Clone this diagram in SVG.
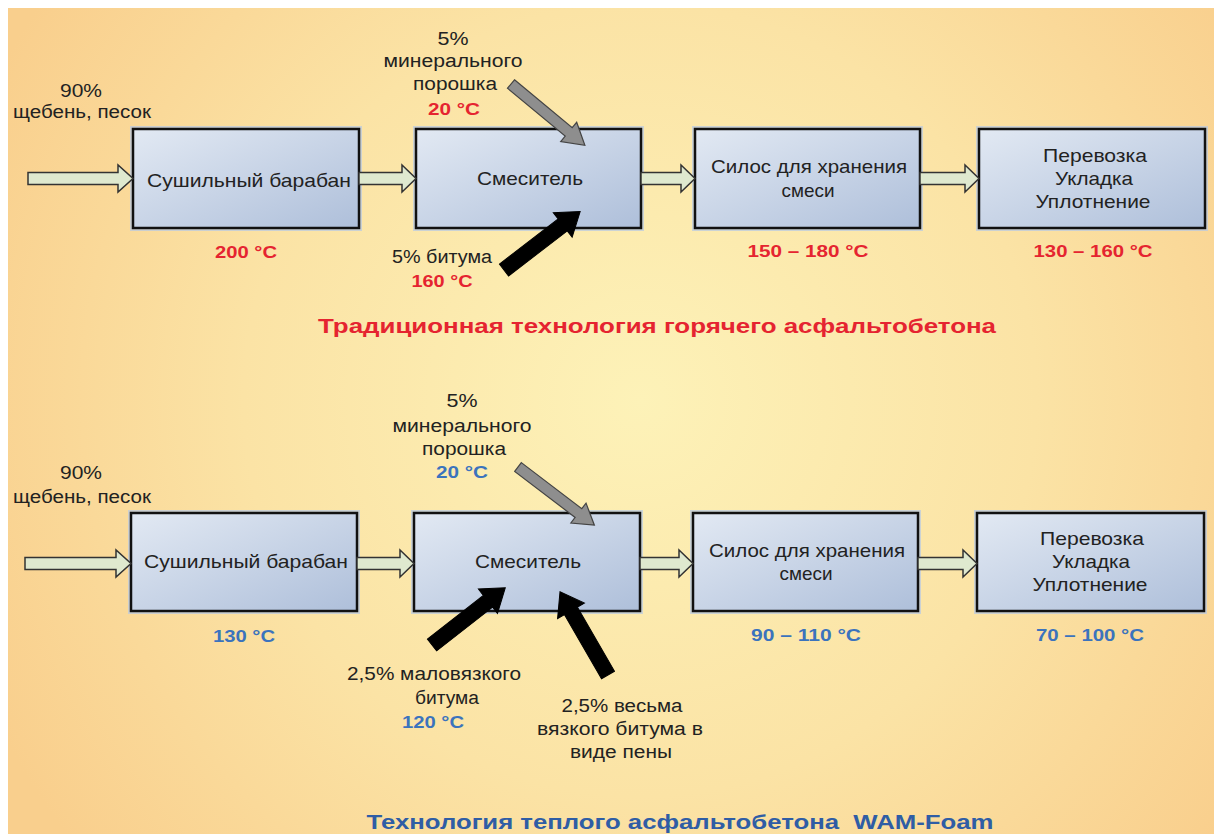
<svg xmlns="http://www.w3.org/2000/svg" width="1214" height="834" viewBox="0 0 1214 834">
<defs>
<radialGradient id="bg" cx="640" cy="400" r="720" gradientUnits="userSpaceOnUse">
<stop offset="0" stop-color="#fdf2b8"/>
<stop offset="0.55" stop-color="#fbe3a5"/>
<stop offset="1" stop-color="#f9cf8d"/>
</radialGradient>
<linearGradient id="box" x1="0" y1="0" x2="1" y2="1">
<stop offset="0" stop-color="#e2e9f3"/>
<stop offset="1" stop-color="#aebfda"/>
</linearGradient>
<style>
.box{fill:url(#box);stroke:#111;stroke-width:2.5}
.glow{fill:none;stroke:#b7c9e6;stroke-width:2;opacity:0.7}
.t{font-family:"Liberation Sans",Arial,sans-serif;font-size:19px;fill:#222;text-anchor:middle}
.l{font-family:"Liberation Sans",Arial,sans-serif;font-size:18px;fill:#222;text-anchor:middle}
.r{font-family:"Liberation Sans",Arial,sans-serif;font-size:17px;font-weight:bold;fill:#e52430;text-anchor:middle}
.b{font-family:"Liberation Sans",Arial,sans-serif;font-size:17px;font-weight:bold;fill:#3b73bd;text-anchor:middle}
.rt{font-family:"Liberation Sans",Arial,sans-serif;font-size:20px;font-weight:bold;fill:#e52430;text-anchor:middle}
.bt{font-family:"Liberation Sans",Arial,sans-serif;font-size:20px;font-weight:bold;fill:#2f5da5;text-anchor:middle}
.flow{fill:#dfe9cf;stroke:#333;stroke-width:1.5}
.gray{fill:#8e8e8e;stroke:#444;stroke-width:1.2}
.black{fill:#000;stroke:#000;stroke-width:1}
</style>
</defs>
<rect x="0" y="0" width="1214" height="834" fill="#ffffff"/>
<rect x="8" y="8" width="1206" height="826" fill="url(#bg)"/>

<!-- top row nodes -->
<g id="top-dryer">
<rect class="glow" x="131" y="127" width="230" height="103"/>
<rect class="box" x="133" y="129" width="226" height="99"/>
<text class="t" x="249" y="187" textLength="204" lengthAdjust="spacingAndGlyphs">Сушильный барабан</text>
</g>
<g id="top-mixer">
<rect class="glow" x="414" y="127" width="229" height="103"/>
<rect class="box" x="416" y="129" width="225" height="99"/>
<text class="t" x="530" y="185" textLength="106" lengthAdjust="spacingAndGlyphs">Смеситель</text>
</g>
<g id="top-silo">
<rect class="glow" x="693" y="127" width="229" height="103"/>
<rect class="box" x="695" y="129" width="225" height="99"/>
<text class="t" x="809" y="173" textLength="196" lengthAdjust="spacingAndGlyphs">Силос для хранения</text>
<text class="t" x="808" y="197" textLength="53" lengthAdjust="spacingAndGlyphs">смеси</text>
</g>
<g id="top-paving">
<rect class="glow" x="977" y="127" width="230" height="103"/>
<rect class="box" x="979" y="129" width="226" height="99"/>
<text class="t" x="1095" y="162" textLength="104" lengthAdjust="spacingAndGlyphs">Перевозка</text>
<text class="t" x="1094" y="185" textLength="78" lengthAdjust="spacingAndGlyphs">Укладка</text>
<text class="t" x="1093" y="208" textLength="115" lengthAdjust="spacingAndGlyphs">Уплотнение</text>
</g>

<!-- bottom row nodes -->
<g id="bottom-dryer">
<rect class="glow" x="129" y="511" width="230" height="102"/>
<rect class="box" x="131" y="513" width="226" height="98"/>
<text class="t" x="246" y="568" textLength="204" lengthAdjust="spacingAndGlyphs">Сушильный барабан</text>
</g>
<g id="bottom-mixer">
<rect class="glow" x="412" y="511" width="230" height="102"/>
<rect class="box" x="414" y="513" width="226" height="98"/>
<text class="t" x="528" y="568" textLength="106" lengthAdjust="spacingAndGlyphs">Смеситель</text>
</g>
<g id="bottom-silo">
<rect class="glow" x="691" y="511" width="229" height="102"/>
<rect class="box" x="693" y="513" width="225" height="98"/>
<text class="t" x="807" y="557" textLength="196" lengthAdjust="spacingAndGlyphs">Силос для хранения</text>
<text class="t" x="806" y="580" textLength="53" lengthAdjust="spacingAndGlyphs">смеси</text>
</g>
<g id="bottom-paving">
<rect class="glow" x="975" y="511" width="231" height="102"/>
<rect class="box" x="977" y="513" width="227" height="98"/>
<text class="t" x="1092" y="545" textLength="104" lengthAdjust="spacingAndGlyphs">Перевозка</text>
<text class="t" x="1091" y="568" textLength="78" lengthAdjust="spacingAndGlyphs">Укладка</text>
<text class="t" x="1090" y="591" textLength="115" lengthAdjust="spacingAndGlyphs">Уплотнение</text>
</g>

<g id="connectors">
<!-- top row flow arrows -->
<path class="flow" d="M28 172.5 H118 V165 L133 178.5 L118 192 V184.5 H28 Z"/>
<path class="flow" d="M359 172.5 H402 V165 L416 178.5 L402 192 V184.5 H359 Z"/>
<path class="flow" d="M641 172.5 H681 V165 L695 178.5 L681 192 V184.5 H641 Z"/>
<path class="flow" d="M920 172.5 H965 V165 L979 178.5 L965 192 V184.5 H920 Z"/>
<!-- bottom row flow arrows -->
<path class="flow" d="M25 557.5 H116 V550 L131 563.5 L116 577 V569.5 H25 Z"/>
<path class="flow" d="M357 557.5 H400 V550 L414 563.5 L400 577 V569.5 H357 Z"/>
<path class="flow" d="M640 557.5 H679 V550 L693 563.5 L679 577 V569.5 H640 Z"/>
<path class="flow" d="M918 557.5 H963 V550 L977 563.5 L963 577 V569.5 H918 Z"/>
<!-- top diagonal arrows -->
<polygon class="gray" transform="translate(511,84) rotate(39.7)" points="0,-5.5 75,-5.5 75,-12.5 96,0 75,12.5 75,5.5 0,5.5"/>
<polygon class="black" transform="translate(504,270) rotate(-37.5)" points="0,-7.5 74,-7.5 74,-15.5 96,0 74,15.5 74,7.5 0,7.5"/>
<!-- bottom diagonal arrows -->
<polygon class="gray" transform="translate(518,467) rotate(37.3)" points="0,-5.5 76,-5.5 76,-12.5 96,0 76,12.5 76,5.5 0,5.5"/>
<polygon class="black" transform="translate(432,645) rotate(-38)" points="0,-7.5 71,-7.5 71,-15.5 93,0 71,15.5 71,7.5 0,7.5"/>
<polygon class="black" transform="translate(608,675) rotate(-120)" points="0,-7.5 74,-7.5 74,-15.5 96,0 74,15.5 74,7.5 0,7.5"/>
</g>

<!-- top labels -->
<g id="top-labels">
<text class="l" x="81" y="97" textLength="42" lengthAdjust="spacingAndGlyphs">90%</text>
<text class="l" x="82" y="118" textLength="138" lengthAdjust="spacingAndGlyphs">щебень, песок</text>
<text class="l" x="453" y="45" textLength="31" lengthAdjust="spacingAndGlyphs">5%</text>
<text class="l" x="453" y="67" textLength="139" lengthAdjust="spacingAndGlyphs">минерального</text>
<text class="l" x="455" y="90" textLength="84" lengthAdjust="spacingAndGlyphs">порошка</text>
<text class="r" x="454" y="115" textLength="52" lengthAdjust="spacingAndGlyphs">20 °C</text>
<text class="l" x="442" y="263" textLength="100" lengthAdjust="spacingAndGlyphs">5% битума</text>
<text class="r" x="442" y="287" textLength="61" lengthAdjust="spacingAndGlyphs">160 °C</text>
<text class="r" x="246" y="258" textLength="62" lengthAdjust="spacingAndGlyphs">200 °C</text>
<text class="r" x="808" y="257" textLength="121" lengthAdjust="spacingAndGlyphs">150 – 180 °C</text>
<text class="r" x="1093" y="257" textLength="119" lengthAdjust="spacingAndGlyphs">130 – 160 °C</text>
<text class="rt" x="657" y="333" textLength="678" lengthAdjust="spacingAndGlyphs">Традиционная технология горячего асфальтобетона</text>
</g>

<!-- bottom labels -->
<g id="bottom-labels">
<text class="l" x="81" y="479" textLength="42" lengthAdjust="spacingAndGlyphs">90%</text>
<text class="l" x="82" y="503" textLength="138" lengthAdjust="spacingAndGlyphs">щебень, песок</text>
<text class="l" x="462" y="407" textLength="31" lengthAdjust="spacingAndGlyphs">5%</text>
<text class="l" x="462" y="432" textLength="139" lengthAdjust="spacingAndGlyphs">минерального</text>
<text class="l" x="464" y="455" textLength="84" lengthAdjust="spacingAndGlyphs">порошка</text>
<text class="b" x="462" y="478" textLength="52" lengthAdjust="spacingAndGlyphs">20 °C</text>
<text class="b" x="244" y="642" textLength="62" lengthAdjust="spacingAndGlyphs">130 °C</text>
<text class="b" x="806" y="641" textLength="110" lengthAdjust="spacingAndGlyphs">90 – 110 °C</text>
<text class="b" x="1090" y="641" textLength="108" lengthAdjust="spacingAndGlyphs">70 – 100 °C</text>
<text class="l" x="434" y="680" textLength="174" lengthAdjust="spacingAndGlyphs">2,5% маловязкого</text>
<text class="l" x="447" y="704" textLength="64" lengthAdjust="spacingAndGlyphs">битума</text>
<text class="b" x="433" y="728" textLength="62" lengthAdjust="spacingAndGlyphs">120 °C</text>
<text class="l" x="622" y="712" textLength="121" lengthAdjust="spacingAndGlyphs">2,5% весьма</text>
<text class="l" x="620" y="735" textLength="166" lengthAdjust="spacingAndGlyphs">вязкого битума в</text>
<text class="l" x="621" y="758" textLength="102" lengthAdjust="spacingAndGlyphs">виде пены</text>
<text class="bt" x="680" y="829" textLength="627" lengthAdjust="spacingAndGlyphs" xml:space="preserve">Технология теплого асфальтобетона  WAM-Foam</text>
</g>
</svg>
